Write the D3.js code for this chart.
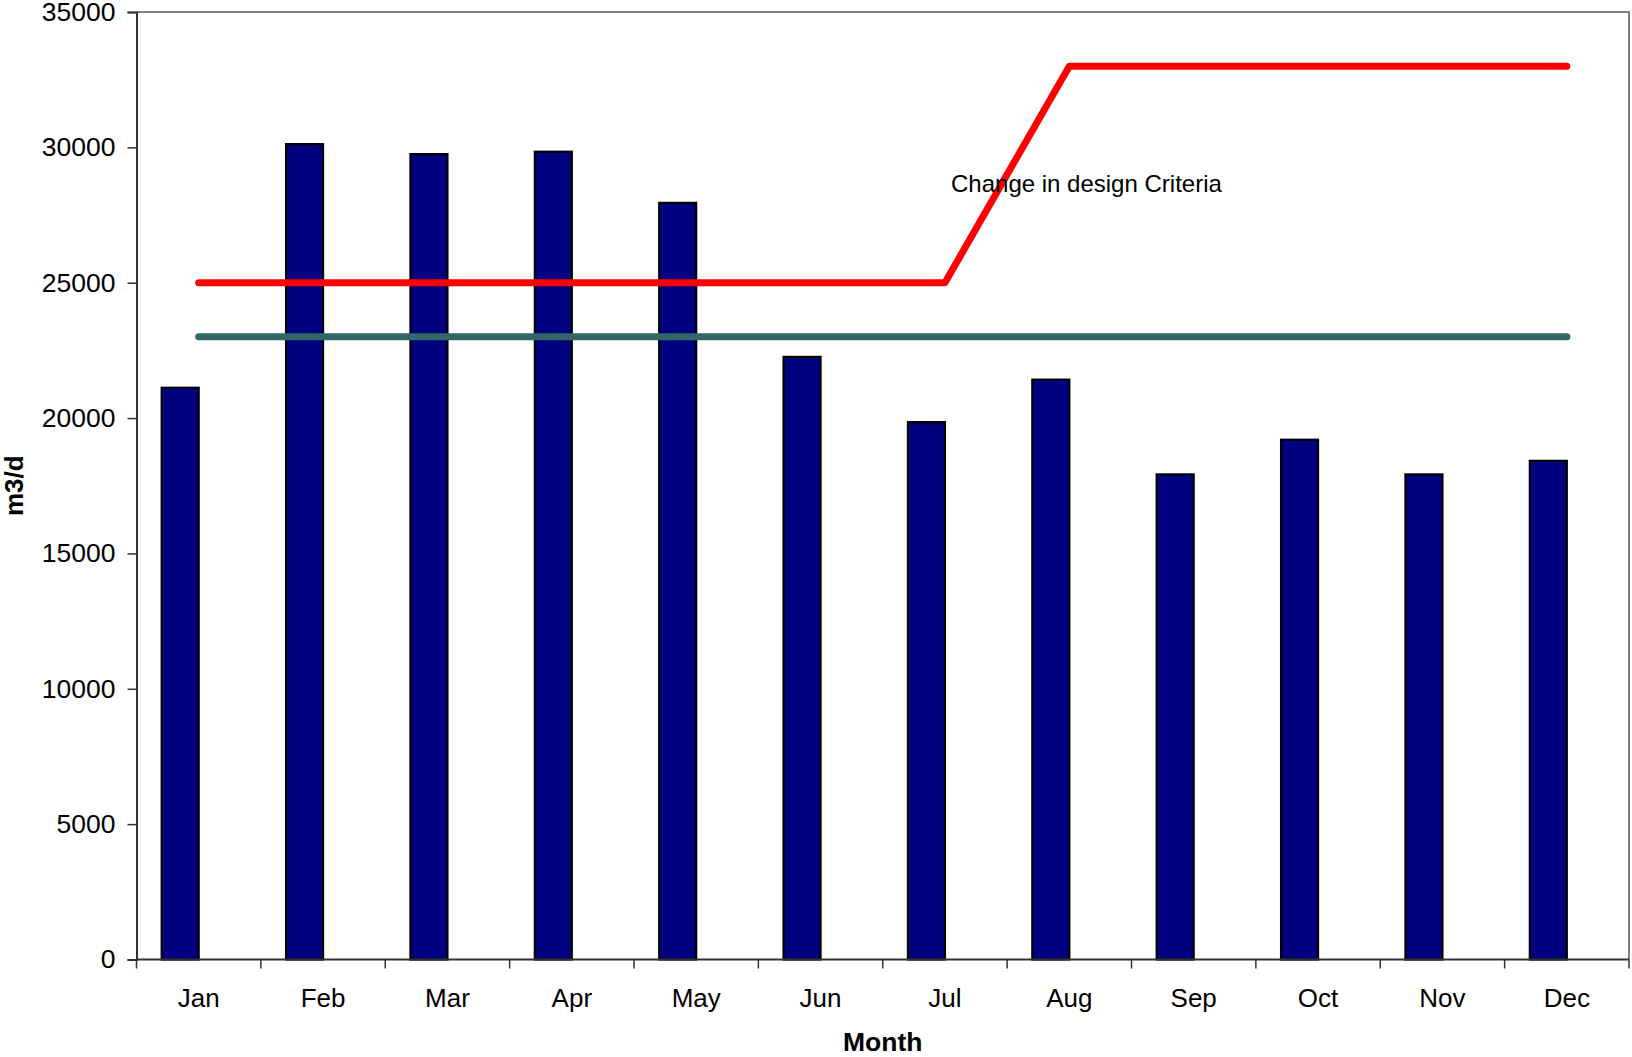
<!DOCTYPE html>
<html>
<head>
<meta charset="utf-8">
<script src="https://cdn.jsdelivr.net/npm/d3@7"></script>
<style>
  html, body { margin: 0; padding: 0; background: #fff; }
  svg { display: block; font-family: "Liberation Sans", Arial, sans-serif; }
</style>
</head>
<body>
<svg id="chart" width="1632" height="1057"></svg>
<script>
// Monthly flow (m3/d)
const months = ["Jan", "Feb", "Mar", "Apr", "May", "Jun", "Jul", "Aug", "Sep", "Oct", "Nov", "Dec"];
const flow = [21120, 30120, 29750, 29840, 27950, 22260, 19850, 21420, 17920, 19200, 17920, 18420];
// Design criteria (changes after July)
const designCriteria = [25000, 25000, 25000, 25000, 25000, 25000, 25000, 33000, 33000, 33000, 33000, 33000];
// Constant reference level
const referenceLevel = [23000, 23000, 23000, 23000, 23000, 23000, 23000, 23000, 23000, 23000, 23000, 23000];
const yTicks = [0, 5000, 10000, 15000, 20000, 25000, 30000, 35000];
const annotation = "Change in design Criteria";

const svg = d3.select("#chart");
const plot = { left: 136.5, right: 1629, top: 12, bottom: 959.5 };

const x = d3.scaleBand().domain(months).range([plot.left, plot.right]).paddingInner(0).paddingOuter(0);
const y = d3.scaleLinear().domain([0, 35000]).range([plot.bottom, plot.top]);
const barW = 37;

// plot frame (top and right)
svg.append("path")
  .attr("d", `M${plot.left},${plot.top}H${plot.right}V${plot.bottom}`)
  .attr("fill", "none").attr("stroke", "#808080").attr("stroke-width", 2);

// bars sit on the left half of each category slot
svg.append("g").selectAll("rect").data(flow).join("rect")
  .attr("x", (d, i) => x(months[i]) + x.bandwidth() / 2 - barW)
  .attr("y", d => y(d))
  .attr("width", barW)
  .attr("height", d => y(0) - y(d))
  .attr("fill", "#000080")
  .attr("stroke", "#000").attr("stroke-width", 2.2);

// y axis
const yAxis = svg.append("g").attr("transform", `translate(${plot.left},0)`)
  .call(d3.axisLeft(y).tickValues(yTicks).tickSize(9).tickPadding(12).tickFormat(d3.format("d")));
yAxis.select(".domain").attr("stroke", "#333").attr("stroke-width", 2);
yAxis.selectAll(".tick line").attr("stroke", "#333").attr("stroke-width", 1.5);
yAxis.selectAll("text").attr("font-size", 26.5).attr("fill", "#000")
  .attr("font-family", "Liberation Sans, Arial, sans-serif");

// x axis: ticks on category boundaries
const xAxis = svg.append("g").attr("transform", `translate(0,${plot.bottom})`);
xAxis.append("line").attr("x1", plot.left).attr("x2", plot.right)
  .attr("stroke", "#333").attr("stroke-width", 2);
const boundaries = months.map(m => x(m)).concat([plot.right]);
xAxis.selectAll("line.tk").data(boundaries).join("line").attr("class", "tk")
  .attr("x1", d => d).attr("x2", d => d).attr("y1", 0).attr("y2", 9)
  .attr("stroke", "#333").attr("stroke-width", 1.5);
xAxis.selectAll("text").data(months).join("text")
  .attr("x", d => x(d) + x.bandwidth() / 2)
  .attr("y", 47.5)
  .attr("text-anchor", "middle").attr("font-size", 26).attr("fill", "#000")
  .text(d => d);

// lines through category centres
const line = d3.line().x((d, i) => x(months[i]) + x.bandwidth() / 2).y(d => y(d));
svg.append("path").datum(referenceLevel).attr("d", line)
  .attr("fill", "none").attr("stroke", "#336666").attr("stroke-width", 7)
  .attr("stroke-linecap", "round").attr("stroke-linejoin", "round");
svg.append("path").datum(designCriteria).attr("d", line)
  .attr("fill", "none").attr("stroke", "#ff0000").attr("stroke-width", 7)
  .attr("stroke-linecap", "round").attr("stroke-linejoin", "round");

// annotation
svg.append("text").attr("x", 951).attr("y", 191.5)
  .attr("font-size", 24).attr("fill", "#000").text(annotation);

// axis titles
svg.append("text").attr("x", (plot.left + plot.right) / 2).attr("y", 1051)
  .attr("text-anchor", "middle").attr("font-size", 26.5).attr("font-weight", "bold").text("Month");
svg.append("text").attr("transform", `translate(23,${(plot.top + plot.bottom) / 2}) rotate(-90)`)
  .attr("text-anchor", "middle").attr("font-size", 26).attr("font-weight", "bold").text("m3/d");
</script>
</body>
</html>
